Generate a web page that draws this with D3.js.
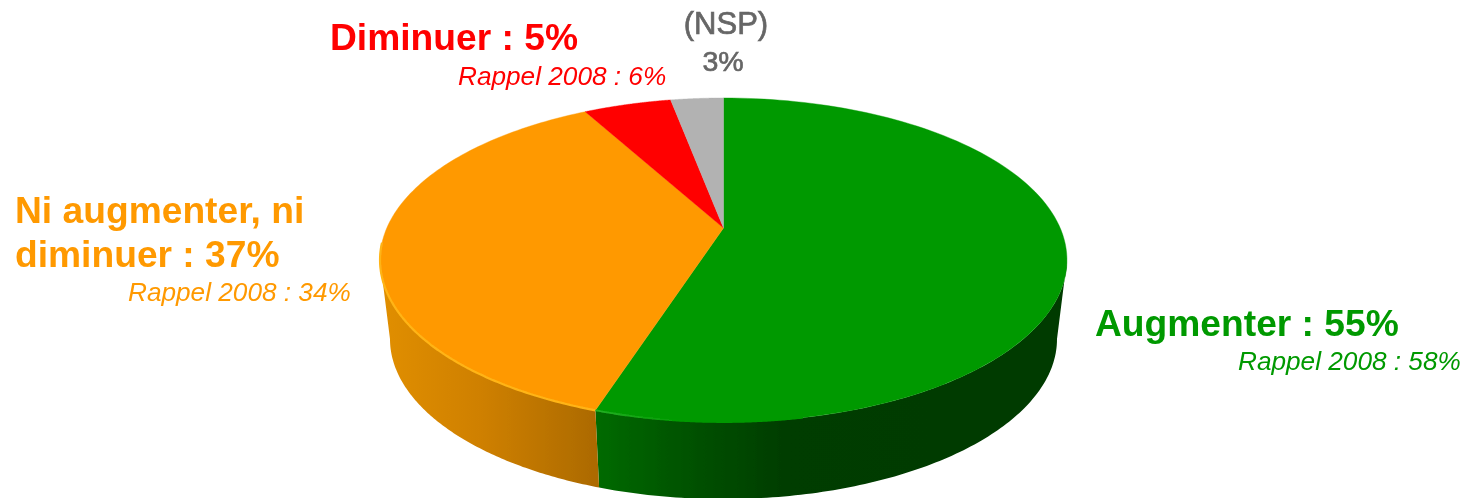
<!DOCTYPE html>
<html><head><meta charset="utf-8">
<script src="https://cdn.jsdelivr.net/npm/d3@7"></script>
<style>html,body{margin:0;padding:0;background:#fff}svg{display:block}text{font-family:"Liberation Sans",Arial,sans-serif}</style>
</head><body><svg id="c" width="1472" height="498"></svg>
<script>
const categories = ["Augmenter","Ni augmenter, ni diminuer","Diminuer","(NSP)"];
const shares = [55,37,5,3];
const colours = ["#009900","#ff9900","#ff0000","#b2b2b2"];
const labels = [
 {t:"Augmenter : 55%",x:1095,y:336,s:37.2,b:1,c:"#009900"},
 {t:"Rappel 2008 : 58%",x:1238,y:370,s:26.2,i:1,c:"#009900"},
 {t:"Ni augmenter, ni",x:15,y:223,s:37.2,b:1,c:"#ff9900"},
 {t:"diminuer : 37%",x:15,y:267,s:37.2,b:1,c:"#ff9900"},
 {t:"Rappel 2008 : 34%",x:128,y:301,s:26.2,i:1,c:"#ff9900"},
 {t:"Diminuer : 5%",x:330,y:50,s:37.2,b:1,c:"#ff0000"},
 {t:"Rappel 2008 : 6%",x:458,y:85,s:26.2,i:1,c:"#ff0000"},
 {t:"(NSP)",x:726,y:34,s:31,n:1,c:"#666666",m:1},
 {t:"3%",x:723,y:71,s:28.5,n:1,c:"#666666",m:1}
];
const svg = d3.select("#c");
const TAU = Math.PI*2;
const arcs = d3.pie().sort(null).startAngle(0).endAngle(TAU)(shares);

// perspective projection of the disc
const k=-0.1975, A=336.7, B=155.7, cx=723.5, cy=228;
const top_ = a=>{const u=Math.sin(a),v=-Math.cos(a),w=1+k*v;return [cx+A*u/w,cy+B*v/w];};
const sc=0.971, cyB=307.4;
const bot = a=>{const u=Math.sin(a),v=-Math.cos(a),w=1+k*v;return [cx+sc*A*u/w,cyB+0.988*B*v/w];};
const samples=(a0,a1)=>d3.range(0,121).map(i=>a0+(a1-a0)*i/120);
const line=d3.line();
const defs=svg.append("defs");
function grad(id,stops){
  const g=defs.append("linearGradient").attr("id",id).attr("gradientUnits","userSpaceOnUse")
    .attr("x1",380).attr("x2",1067).attr("y1",0).attr("y2",0);
  stops.forEach(s=>g.append("stop").attr("offset",(s[0]-380)/687).attr("stop-color",s[1]));
}
grad("gs",[[597,"#006a00"],[680,"#005400"],[790,"#003c00"],[1067,"#003a00"]]);
grad("os",[[385,"#e08e00"],[480,"#cf8000"],[597,"#ac6a00"]]);
grad("gr",[[597,"#22b022"],[690,"#009900"]]);
defs.append("filter").attr("id","soft").append("feGaussianBlur").attr("stdDeviation",0.6);
defs.append("filter").attr("id","all").attr("x",0).attr("y",0).attr("width","100%").attr("height","100%")
  .attr("filterUnits","userSpaceOnUse").append("feGaussianBlur").attr("stdDeviation",0.45);
const root=svg.append("g").attr("filter","url(#all)");
root.append("rect").attr("width",1472).attr("height",498).attr("fill","#fff");

// side wall: visible between the two silhouette angles
const thS=Math.acos(k);
const sideFill=["url(#gs)","url(#os)",null,null];
arcs.forEach((d,i)=>{
  if(!sideFill[i])return;
  const a0=Math.max(d.startAngle,thS), a1=Math.min(d.endAngle,TAU-thS);
  const pts=samples(a0,a1).map(top_).concat(samples(a0,a1).reverse().map(bot));
  root.append("path").attr("d",line(pts)+"Z").attr("fill",sideFill[i]);
});
// top face
arcs.forEach((d,i)=>{
  const pts=[[cx,cy]].concat(samples(d.startAngle,d.endAngle).map(top_));
  root.append("path").attr("d",line(pts)+"Z").attr("fill",colours[i]).attr("stroke",colours[i]).attr("stroke-width",0.4);
});
// rim highlights on the front edge
root.append("path").attr("d",line(samples(arcs[1].startAngle,4.62).map(top_)))
  .attr("fill","none").attr("stroke","#ffb414").attr("stroke-width",2.2).attr("filter","url(#soft)");
root.append("path").attr("d",line(samples(2.95,arcs[0].endAngle).map(top_)))
  .attr("fill","none").attr("stroke","url(#gr)").attr("stroke-width",1.8).attr("filter","url(#soft)");

root.selectAll("text.l").data(labels).join("text").attr("class","l")
  .attr("x",d=>d.x).attr("y",d=>d.y).attr("fill",d=>d.c)
  .attr("font-size",d=>d.s).attr("font-weight",d=>d.b?"bold":"normal")
  .attr("font-style",d=>d.i?"italic":"normal")
  .attr("stroke",d=>d.n?d.c:"none").attr("stroke-width",d=>d.n?0.7:0)
  .attr("text-anchor",d=>d.m?"middle":"start").text(d=>d.t);
</script></body></html>
